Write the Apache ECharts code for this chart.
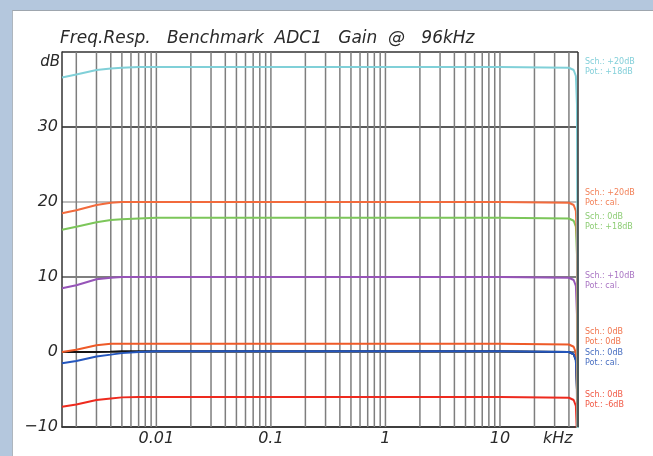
<!DOCTYPE html>
<html>
<head>
<meta charset="utf-8">
<script src="https://cdn.jsdelivr.net/npm/echarts@6/dist/echarts.min.js"></script>
<style>
  html, body { margin: 0; padding: 0; width: 653px; height: 456px; overflow: hidden; background: #b4c7dd; }
  #card { position: absolute; left: 12px; top: 10px; right: 0; bottom: 0; background: #fff; border-top: 1px solid #9ea6ae; border-left: 1px solid #aeb6be; }
  #chart { position: absolute; left: 0; top: 0; width: 653px; height: 456px; }
</style>
</head>
<body>
<div id="card"></div>
<div id="chart"></div>
<script>
// Frequency points in kHz (shared by all traces)
const freqKHz = [0.0015, 0.002, 0.003, 0.004, 0.005, 0.007, 0.01, 0.1, 1, 10, 40, 44, 46, 47, 47.6, 48];

// Level in dB for each gain setting
const gainSch20Pot18 = [36.6, 37.0, 37.6, 37.8, 37.9, 38.0, 38.0, 38.0, 38.0, 38.0, 37.9, 37.6, 36.8, 33, 8, -42];
const gainSch20Cal   = [18.5, 18.9, 19.6, 19.9, 20.0, 20.0, 20.0, 20.0, 20.0, 20.0, 19.9, 19.6, 18.8, 15, -10, -60];
const gainSch0Pot18  = [16.3, 16.7, 17.3, 17.6, 17.7, 17.8, 17.9, 17.9, 17.9, 17.9, 17.8, 17.5, 16.7, 13, -12, -62];
const gainSch10Cal   = [8.5, 8.9, 9.7, 9.9, 10.0, 10.0, 10.0, 10.0, 10.0, 10.0, 9.9, 9.6, 8.8, 5, -20, -70];
const gainSch0Pot0   = [0.0, 0.3, 0.9, 1.1, 1.1, 1.1, 1.1, 1.1, 1.1, 1.1, 1.0, 0.7, -0.1, -4, -29, -79];
const gainReference  = [0.0, 0.0, 0.0, 0.05, 0.1, 0.1, 0.1, 0.1, 0.1, 0.1, 0.0, -0.3, -1.1, -5, -30, -80];
const gainSch0Cal    = [-1.5, -1.2, -0.6, -0.35, -0.15, 0.0, 0.1, 0.1, 0.1, 0.1, 0.0, -0.3, -1.1, -5, -30, -80];
const gainSch0PotM6  = [-7.3, -7.0, -6.4, -6.2, -6.05, -6.0, -6.0, -6.0, -6.0, -6.0, -6.1, -6.4, -7.2, -11, -36, -86];

// Vertical log grid: 1..9 per decade
const gridFreqs = [0.002, 0.003, 0.004, 0.005, 0.006, 0.007, 0.008, 0.009,
  0.01, 0.02, 0.03, 0.04, 0.05, 0.06, 0.07, 0.08, 0.09,
  0.1, 0.2, 0.3, 0.4, 0.5, 0.6, 0.7, 0.8, 0.9,
  1, 2, 3, 4, 5, 6, 7, 8, 9,
  10, 20, 30, 40];

// Tick labels
const yTicks = [-10, 0, 10, 20, 30];
const xTickLabels = { '0.01': '0.01', '0.1': '0.1', '1': '1', '10': '10' };

// Side notes: switch / pot setting per trace
const notes = [
  { text: 'Sch.: +20dB\nPot.: +18dB', color: '#6cc7d2', at: 38.0 },
  { text: 'Sch.: +20dB\nPot.: cal.',  color: '#f06a3a', at: 20.5 },
  { text: 'Sch.: 0dB\nPot.: +18dB',   color: '#78c35a', at: 17.3 },
  { text: 'Sch.: +10dB\nPot.: cal.',  color: '#9a5cb8', at: 9.5 },
  { text: 'Sch.: 0dB\nPot.: 0dB',     color: '#ee5a2c', at: 2.0 },
  { text: 'Sch.: 0dB\nPot.: cal.',    color: '#2552b5', at: -0.8 },
  { text: 'Sch.: 0dB\nPot.: -6dB',    color: '#ee3a22', at: -6.4 }
];

const traces = [
  { name: 'ref',    data: gainReference,  color: '#151515' },
  { name: 'red',    data: gainSch0PotM6,  color: '#ee2a1e' },
  { name: 'orange', data: gainSch0Pot0,   color: '#ee5a28' },
  { name: 'blue',   data: gainSch0Cal,    color: '#2456bd' },
  { name: 'purple', data: gainSch10Cal,   color: '#9654b8' },
  { name: 'green',  data: gainSch0Pot18,  color: '#7cc65a' },
  { name: 'orange20', data: gainSch20Cal, color: '#f26a3c' },
  { name: 'teal',   data: gainSch20Pot18, color: '#80d0d8' }
];

const FONT = 'DejaVu Sans';
const TEXT_COLOR = '#2a2a2a';
const chart = echarts.init(document.getElementById('chart'), null, { renderer: 'canvas' });

const series = [];

// Vertical grid lines, one per frequency, spanning the full dB range
series.push({
  type: 'custom',
  silent: true,
  z: 1,
  data: gridFreqs.map(f => [f]),
  renderItem: (params, api) => {
    const f = api.value(0);
    const p0 = api.coord([f, -10]);
    const p1 = api.coord([f, 40]);
    return {
      type: 'line',
      shape: { x1: p0[0], y1: p0[1], x2: p1[0], y2: p1[1] },
      style: { stroke: '#7e7e7e', lineWidth: 1.5 }
    };
  }
});

traces.forEach(t => series.push({
  type: 'line',
  name: t.name,
  data: freqKHz.map((f, i) => [f, t.data[i]]),
  showSymbol: false,
  symbol: 'none',
  clip: true,
  lineStyle: { color: t.color, width: 2 },
  z: 5,
  silent: true
}));

chart.setOption({
  animation: false,
  grid: { left: 62, top: 52, right: 75, bottom: 29, containLabel: false },
  xAxis: {
    type: 'log',
    logBase: 10,
    min: freqKHz[0],
    max: freqKHz[freqKHz.length - 1],
    name: 'kHz',
    nameLocation: 'end',
    nameGap: -35,
    nameTextStyle: { fontFamily: FONT, fontStyle: 'italic', fontSize: 16, color: TEXT_COLOR, verticalAlign: 'top', padding: [4, 0, 0, 0] },
    axisLine: { show: true, onZero: false, lineStyle: { color: '#333', width: 1.5 } },
    axisTick: { show: false },
    splitLine: { show: false },
    axisLabel: {
      fontFamily: FONT, fontStyle: 'italic', fontSize: 16, color: TEXT_COLOR, margin: 4,
      showMinLabel: false, showMaxLabel: false,
      formatter: v => xTickLabels[String(+v.toPrecision(3))] || ''
    }
  },
  yAxis: {
    type: 'value',
    min: -10, max: 40, interval: 10,
    name: 'dB',
    nameLocation: 'end',
    nameGap: -10,
    nameTextStyle: { fontFamily: FONT, fontStyle: 'italic', fontSize: 15, color: TEXT_COLOR, align: 'right', verticalAlign: 'middle', padding: [0, 2, 0, 0] },
    axisLine: { show: true, lineStyle: { color: '#333', width: 1.5 } },
    axisTick: { show: false },
    splitLine: { show: true, lineStyle: { color: ['#333', '#555', '#555', '#a8a8a8', '#222', '#333'], width: 1.5 } },
    axisLabel: {
      fontFamily: FONT, fontStyle: 'italic', fontSize: 16, color: TEXT_COLOR, margin: 4,
      formatter: v => (yTicks.indexOf(v) >= 0 ? String(v).replace('-', '\u2212') : '')
    }
  },
  series: series
});

// Title, right frame edge and side notes placed from the axis scale
function placeExtras() {
  const x0 = chart.convertToPixel({ xAxisIndex: 0 }, freqKHz[0]);
  const x1 = chart.convertToPixel({ xAxisIndex: 0 }, freqKHz[freqKHz.length - 1]);
  const yTop = chart.convertToPixel({ yAxisIndex: 0 }, 40);
  const yBot = chart.convertToPixel({ yAxisIndex: 0 }, -10);
  const elements = [{
    type: 'text', silent: true, z: 10,
    x: x0 - 2, y: yTop - 5,
    style: {
      text: 'Freq.Resp.   Benchmark  ADC1   Gain  @   96kHz',
      font: 'italic 17px ' + FONT, fill: TEXT_COLOR, verticalAlign: 'bottom'
    }
  }, {
    type: 'line', silent: true, z: 10,
    shape: { x1: x1, y1: yTop, x2: x1, y2: yBot },
    style: { stroke: '#333', lineWidth: 1.5 }
  }];
  notes.forEach(n => {
    elements.push({
      type: 'text', silent: true, z: 10,
      x: x1 + 7,
      y: chart.convertToPixel({ yAxisIndex: 0 }, n.at),
      style: { text: n.text, fill: n.color, font: '8px ' + FONT, lineHeight: 10, verticalAlign: 'middle', opacity: 0.85 }
    });
  });
  chart.setOption({ graphic: { elements: elements } });
}
placeExtras();
</script>
</body>
</html>
